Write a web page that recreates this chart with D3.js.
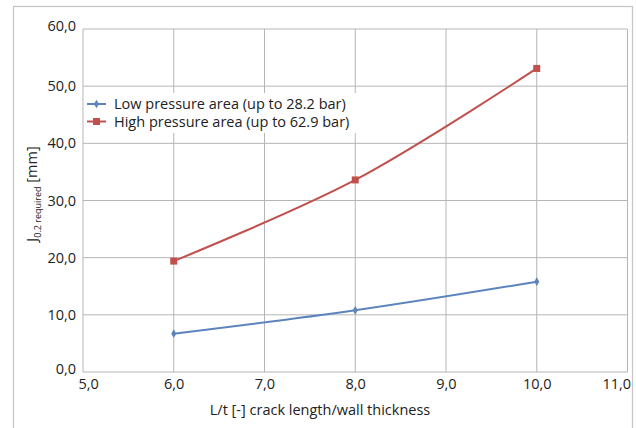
<!DOCTYPE html>
<html><head><meta charset="utf-8">
<script src="https://cdn.jsdelivr.net/npm/d3@7"></script>
<style>
html,body{margin:0;padding:0;background:#fff;}
svg{display:block;font-family:"Open Sans","Noto Sans",sans-serif;}
</style></head>
<body><svg id="c" width="636" height="428"></svg>
<script>
const xValues = [6, 8, 10];
const lowPressure = [6.7, 10.8, 15.8];
const highPressure = [19.4, 33.6, 53.1];
const seriesNames = ["Low pressure area (up to 28.2 bar)", "High pressure area (up to 62.9 bar)"];
const xTicks = [5, 6, 7, 8, 9, 10, 11];
const yTicks = [0, 10, 20, 30, 40, 50, 60];
const xTitle = "L/t [-] crack length/wall thickness";

const svg = d3.select("#c");
const L = 83, R = 627.5, T = 29, B = 372;
const x = d3.scaleLinear().domain([5, 11]).range([L, R]);
const y = d3.scaleLinear().domain([0, 60]).range([B, T]);
const fmt = d => d.toFixed(1).replace(".", ",");
const FS = 14.5;

// outer frame
svg.append("rect").attr("x", 13.5).attr("y", 6.5).attr("width", 619).attr("height", 440)
  .attr("fill", "none").attr("stroke", "#c4c4c4").attr("stroke-width", 1.2);

// gridlines
const g = svg.append("g");
g.selectAll("line.gx").data(xTicks).enter().append("line")
  .attr("x1", d => x(d)).attr("x2", d => x(d)).attr("y1", T).attr("y2", B)
  .attr("stroke", "#b5b5b5").attr("stroke-width", 1);
g.selectAll("line.gy").data(yTicks).enter().append("line")
  .attr("x1", L).attr("x2", R).attr("y1", d => y(d)).attr("y2", d => y(d))
  .attr("stroke", "#b5b5b5").attr("stroke-width", 1);

// axes (labels only)
const xAxis = d3.axisBottom(x).tickValues(xTicks).tickFormat(fmt).tickSize(0).tickPadding(7);
const xa = svg.append("g").attr("transform", `translate(0,${B})`).call(xAxis);
xa.select(".domain").remove();
xa.selectAll("text").attr("font-size", FS).attr("fill", "#222").attr("font-family", "Open Sans");
xa.selectAll(".tick").filter(d => d === 5).select("text").attr("text-anchor", "start").attr("x", -5);
xa.selectAll(".tick").filter(d => d === 11).select("text").attr("text-anchor", "end").attr("x", 3);
const yAxis = d3.axisLeft(y).tickValues(yTicks).tickFormat(fmt).tickSize(0).tickPadding(7);
const ya = svg.append("g").attr("transform", `translate(${L},0)`).call(yAxis);
ya.select(".domain").remove();
ya.selectAll("text").attr("font-size", FS).attr("fill", "#222").attr("font-family", "Open Sans");
ya.selectAll(".tick").filter(d => d === 0 || d === 60).select("text").attr("y", -3);

// axis titles
svg.append("text").attr("x", 320).attr("y", 415).attr("text-anchor", "middle")
  .attr("font-size", FS).attr("fill", "#222").text(xTitle);
const yt = svg.append("text").attr("transform", `translate(37,194) rotate(-90)`)
  .attr("text-anchor", "middle").attr("font-size", FS).attr("fill", "#222");
yt.append("tspan").text("J");
yt.append("tspan").attr("font-size", 9).attr("dy", 4).text("0.2 required");
yt.append("tspan").attr("dy", -4).text(" [mm]");

// lines
const colors = ["#5b84bd", "#c0504d"];
const series = [lowPressure, highPressure];
const line = d3.line().x(d => x(d[0])).y(d => y(d[1])).curve(d3.curveCatmullRom.alpha(0.5));
series.forEach((s, i) => {
  const pts = xValues.map((v, j) => [v, s[j]]);
  svg.append("path").datum(pts).attr("d", line).attr("fill", "none")
    .attr("stroke", colors[i]).attr("stroke-width", 2);
  if (i === 0) {
    svg.selectAll(null).data(pts).enter().append("path")
      .attr("d", d3.symbol(d3.symbolDiamond, 22))
      .attr("transform", d => `translate(${x(d[0])},${y(d[1])})`)
      .attr("fill", colors[i]);
  } else {
    svg.selectAll(null).data(pts).enter().append("rect")
      .attr("x", d => x(d[0]) - 3.5).attr("y", d => y(d[1]) - 3.5)
      .attr("width", 7).attr("height", 7).attr("fill", colors[i]);
  }
});

// legend
const lg = svg.append("g");
lg.append("rect").attr("x", 84).attr("y", 93).attr("width", 278).attr("height", 40).attr("fill", "#fff");
seriesNames.forEach((n, i) => {
  const cy = 104 + i * 17.5;
  lg.append("line").attr("x1", 87).attr("x2", 106).attr("y1", cy).attr("y2", cy)
    .attr("stroke", colors[i]).attr("stroke-width", 2);
  if (i === 0) {
    lg.append("path").attr("d", d3.symbol(d3.symbolDiamond, 22)).attr("transform", `translate(96.5,${cy})`).attr("fill", colors[i]);
  } else {
    lg.append("rect").attr("x", 93).attr("y", cy - 3.5).attr("width", 7).attr("height", 7).attr("fill", colors[i]);
  }
  lg.append("text").attr("x", 114).attr("y", cy + 5).attr("font-size", FS).attr("fill", "#222").text(n);
});
</script>
</body></html>
